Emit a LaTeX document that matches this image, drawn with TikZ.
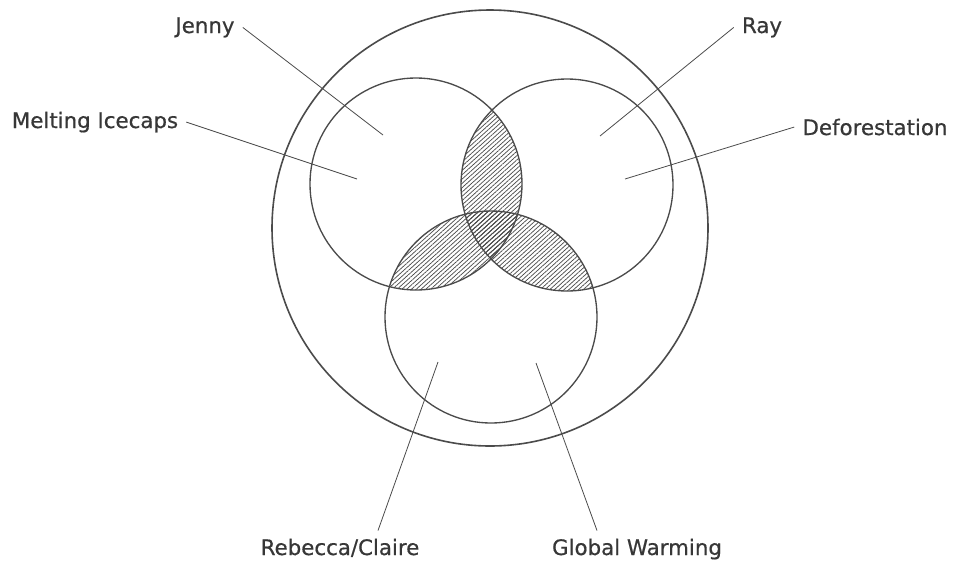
\documentclass[tikz,border=0pt]{standalone}
\usepackage{fontspec}
\setmainfont{DejaVu Sans}
\usepackage{xcolor}
\usetikzlibrary{patterns.meta}
\definecolor{vnLine}{RGB}{75,75,75}
\definecolor{vnText}{RGB}{55,55,55}

\begin{document}
\begin{tikzpicture}[
  x=0.75pt, y=-0.75pt,
  ring/.style={draw=vnLine, line width=1.2pt},
  setring/.style={draw=vnLine, line width=1pt},
  lbl/.style={text=vnText, font=\fontsize{16}{19}\selectfont\addfontfeatures{FakeBold=0.6}, inner sep=6pt, anchor=base},
  lead/.style={draw=vnLine, line width=0.6pt},
  hatch/.style={pattern={Lines[angle=42, distance=2.4pt, line width=0.55pt]}, pattern color=vnLine}
]
\useasboundingbox (0,0) rectangle (953,565);
% centres of the sets
\coordinate (outerC) at (490,228);
\coordinate (jennyC) at (416,184);
\coordinate (rayC) at (567,185);
\coordinate (rebeccaC) at (491,317);

% overlaps
\begin{scope}
  \clip (jennyC) circle[radius=79.5pt];
  \fill[hatch] (rayC) circle[radius=79.5pt];
  \fill[hatch] (rebeccaC) circle[radius=79.5pt];
\end{scope}
\begin{scope}
  \clip (rayC) circle[radius=79.5pt];
  \fill[hatch] (rebeccaC) circle[radius=79.5pt];
\end{scope}

% circles
\draw[ring] (outerC) circle[radius=163.5pt];
\draw[setring] (jennyC) circle[radius=79.5pt];
\draw[setring] (rayC) circle[radius=79.5pt];
\draw[setring] (rebeccaC) circle[radius=79.5pt];

% labels
\node[lbl] (jenny) at (205,33) {Jenny};
\node[lbl] (icecaps) at (95,128) {Melting Icecaps};
\node[lbl] (ray) at (762,33) {Ray};
\node[lbl] (forest) at (875,135) {Deforestation};
\node[lbl] (rebecca) at (340,555) {Rebecca/Claire};
\node[lbl] (warming) at (637,555) {Global Warming};

% leader ends
\coordinate (jennyPt) at (383,135);
\coordinate (icecapsPt) at (357,179);
\coordinate (rayPt) at (600,136);
\coordinate (forestPt) at (625,179);
\coordinate (rebeccaPt) at (438,362);
\coordinate (warmingPt) at (536,363);

\draw[lead] (jenny.east) -- (jennyPt);
\draw[lead] (icecaps.east) -- (icecapsPt);
\draw[lead] (ray.west) -- (rayPt);
\draw[lead] (forest.west) -- (forestPt);
\draw[lead] ([xshift=28.5pt]rebecca.north) -- (rebeccaPt);
\draw[lead] ([xshift=-30pt]warming.north) -- (warmingPt);
\end{tikzpicture}
\end{document}
